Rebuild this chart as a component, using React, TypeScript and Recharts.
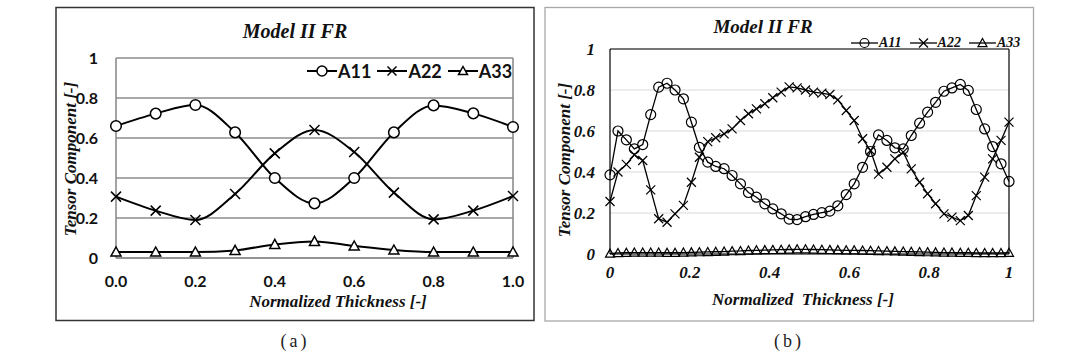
import React from 'react';
import { LineChart, Line, XAxis, YAxis, CartesianGrid, ReferenceLine, Legend } from 'recharts';

// ---------- Panel (a) data ----------
const thicknessA = [0, 0.1, 0.2, 0.3, 0.4, 0.5, 0.6, 0.7, 0.8, 0.9, 1.0];
const a11A = [0.66, 0.722, 0.765, 0.628, 0.4, 0.273, 0.4, 0.628, 0.763, 0.723, 0.655];
const a22A = [0.307, 0.237, 0.19, 0.32, 0.523, 0.64, 0.53, 0.327, 0.193, 0.237, 0.31];
const a33A = [0.03, 0.03, 0.03, 0.038, 0.068, 0.083, 0.06, 0.04, 0.03, 0.03, 0.03];

// ---------- Panel (b) data ----------
const thicknessB = [
  0, 0.02, 0.041, 0.061, 0.082, 0.102, 0.122, 0.143, 0.163, 0.184,
  0.204, 0.224, 0.245, 0.265, 0.286, 0.306, 0.327, 0.347, 0.367, 0.388,
  0.408, 0.429, 0.449, 0.469, 0.49, 0.51, 0.531, 0.551, 0.571, 0.592,
  0.612, 0.633, 0.653, 0.673, 0.694, 0.714, 0.735, 0.755, 0.776, 0.796,
  0.816, 0.837, 0.857, 0.878, 0.898, 0.918, 0.939, 0.959, 0.98, 1.0,
];
const a11B = [
  0.386, 0.6, 0.557, 0.513, 0.534, 0.68, 0.814, 0.833, 0.8, 0.757,
  0.643, 0.52, 0.448, 0.427, 0.416, 0.383, 0.342, 0.3, 0.277, 0.245,
  0.22, 0.196, 0.17, 0.168, 0.182, 0.193, 0.202, 0.209, 0.235, 0.29,
  0.342, 0.423, 0.5, 0.581, 0.554, 0.518, 0.513, 0.578, 0.638, 0.692,
  0.74, 0.794, 0.81, 0.827, 0.798, 0.705, 0.61, 0.524, 0.44, 0.354,
];
const a22B = [
  0.256, 0.4, 0.437, 0.484, 0.456, 0.313, 0.172, 0.155, 0.196, 0.237,
  0.35, 0.472, 0.548, 0.567, 0.586, 0.61, 0.651, 0.684, 0.708, 0.733,
  0.762, 0.79, 0.815, 0.81, 0.8, 0.79, 0.785, 0.778, 0.752, 0.7,
  0.651, 0.562, 0.505, 0.39, 0.423, 0.464, 0.497, 0.415, 0.35, 0.294,
  0.245, 0.196, 0.18, 0.163, 0.188, 0.285, 0.375, 0.464, 0.554, 0.643,
];
const a33B = [
  0.002, 0.005, 0.006, 0.007, 0.007, 0.007, 0.007, 0.006, 0.006, 0.007,
  0.008, 0.009, 0.01, 0.011, 0.012, 0.014, 0.015, 0.017, 0.018, 0.019,
  0.02, 0.021, 0.022, 0.023, 0.023, 0.022, 0.021, 0.02, 0.019, 0.018,
  0.018, 0.017, 0.016, 0.015, 0.014, 0.013, 0.012, 0.011, 0.01, 0.009,
  0.008, 0.007, 0.007, 0.006, 0.006, 0.005, 0.005, 0.005, 0.005, 0.006,
];

const tickValues = [0, 0.2, 0.4, 0.6, 0.8, 1.0];
const seriesNames = ['A11', 'A22', 'A33'];

const dataA = thicknessA.map((x, i) => ({ x, A11: a11A[i], A22: a22A[i], A33: a33A[i] }));
const dataB = thicknessB.map((x, i) => ({ x, A11: a11B[i], A22: a22B[i], A33: a33B[i] }));

type Shape = 'circle' | 'cross' | 'triangle';
const shapes: Shape[] = ['circle', 'cross', 'triangle'];

function marker(shape: Shape, cx: number, cy: number, s: number, sw: number, fill: string, key?: string) {
  if (shape === 'circle') {
    return <circle key={key} cx={cx} cy={cy} r={s} fill={fill} stroke="#000" strokeWidth={sw} />;
  }
  if (shape === 'cross') {
    return (
      <g key={key}>
        <line x1={cx - s} y1={cy - s} x2={cx + s} y2={cy + s} stroke="#000" strokeWidth={sw} />
        <line x1={cx - s} y1={cy + s} x2={cx + s} y2={cy - s} stroke="#000" strokeWidth={sw} />
      </g>
    );
  }
  return (
    <polygon
      key={key}
      points={`${cx},${cy - s} ${cx + s},${cy + s * 0.8} ${cx - s},${cy + s * 0.8}`}
      fill={fill}
      stroke="#000"
      strokeWidth={sw}
    />
  );
}

const makeDot = (shape: Shape, s: number, sw: number, fill: string) => (p: any) => {
  if (p.cx == null || p.cy == null) return <g key={`e${p.index}`} />;
  return marker(shape, p.cx, p.cy, s, sw, fill, `${shape}${p.index}`);
};

const fmtEnds = (v: number) => (v === 0 ? '0' : v === 1 ? '1' : v.toFixed(1));
const fmtFixed = (v: number) => v.toFixed(1);

const serifBI = 'Liberation Serif';

const LegendA = () => (
  <div style={{ display: 'flex', alignItems: 'center', height: 20, fontFamily: 'Lato', fontWeight: 700, fontSize: 18, color: '#111' }}>
    {seriesNames.map((n, i) => (
      <div key={n} style={{ display: 'flex', alignItems: 'center', marginRight: 6 }}>
        <svg width={30} height={20}>
          <line x1={0} y1={10} x2={30} y2={10} stroke="#000" strokeWidth={2} />
          {marker(shapes[i], 15, 10, i === 0 ? 5 : 4.5, 1.5, '#fff')}
        </svg>
        <span style={{ marginLeft: 1, lineHeight: '20px' }}>{n}</span>
      </div>
    ))}
  </div>
);

const LegendB = () => (
  <div style={{ display: 'flex', alignItems: 'center', height: 16, fontFamily: serifBI, fontStyle: 'italic', fontWeight: 700, fontSize: 14, color: '#111' }}>
    {seriesNames.map((n, i) => (
      <div key={n} style={{ display: 'flex', alignItems: 'center', marginRight: 8 }}>
        <svg width={27} height={16}>
          <line x1={0} y1={8} x2={27} y2={8} stroke="#000" strokeWidth={1.3} />
          {marker(shapes[i], 13.5, 8, 4.5, 1.2, 'none')}
        </svg>
        <span style={{ marginLeft: 1, lineHeight: '16px' }}>{n}</span>
      </div>
    ))}
  </div>
);

const gridA = '#8c8c8c';

function ChartA() {
  const tick = { fill: '#111', fontFamily: 'Lato', fontWeight: 700, fontSize: 16 };
  return (
    <LineChart width={478} height={313} data={dataA} margin={{ top: 51, right: 21, bottom: 32, left: 0 }}>
      <CartesianGrid vertical={false} stroke={gridA} strokeWidth={1.6} />
      <XAxis
        dataKey="x"
        type="number"
        domain={[0, 1]}
        ticks={tickValues}
        tickFormatter={fmtFixed}
        height={30}
        tickSize={0}
        tickMargin={18}
        axisLine={{ stroke: gridA, strokeWidth: 1.6 }}
        tickLine={false}
        tick={tick}
        interval={0}
      />
      <YAxis
        type="number"
        domain={[0, 1]}
        ticks={tickValues}
        tickFormatter={fmtEnds}
        width={60}
        tickSize={0}
        tickMargin={18}
        axisLine={{ stroke: gridA, strokeWidth: 1.6 }}
        tickLine={false}
        tick={tick}
        interval={0}
      />
      <ReferenceLine x={1} stroke={gridA} strokeWidth={1.6} />
      <Legend
        layout="vertical"
        verticalAlign="middle"
        align="center"
        content={() => <LegendA />}
        wrapperStyle={{ left: 251, top: 54, width: 'auto', height: 20 }}
      />
      <Line type="monotone" dataKey="A11" stroke="#000" strokeWidth={2} dot={makeDot('circle', 5.3, 1.5, '#fff')} activeDot={false} isAnimationActive={false} />
      <Line type="monotone" dataKey="A22" stroke="#000" strokeWidth={2} dot={makeDot('cross', 5, 1.5, '#fff')} activeDot={false} isAnimationActive={false} />
      <Line type="monotone" dataKey="A33" stroke="#000" strokeWidth={2} dot={makeDot('triangle', 5, 1.5, '#fff')} activeDot={false} isAnimationActive={false} />
    </LineChart>
  );
}

function ChartB() {
  const tick = { fill: '#111', fontFamily: serifBI, fontStyle: 'italic', fontWeight: 700, fontSize: 17 };
  return (
    <LineChart width={489} height={314} data={dataB} margin={{ top: 42, right: 25, bottom: 37, left: 0 }}>
      <CartesianGrid vertical={false} stroke="#d9d9d9" strokeWidth={1} />
      <XAxis
        dataKey="x"
        type="number"
        domain={[0, 1]}
        ticks={tickValues}
        tickFormatter={fmtEnds}
        height={30}
        tickSize={0}
        tickMargin={12}
        axisLine={{ stroke: '#000', strokeWidth: 1.2 }}
        tickLine={false}
        tick={tick}
        interval={0}
      />
      <YAxis
        type="number"
        domain={[0, 1]}
        ticks={tickValues}
        tickFormatter={fmtEnds}
        width={65}
        tickSize={0}
        tickMargin={15}
        axisLine={{ stroke: '#000', strokeWidth: 1.2 }}
        tickLine={false}
        tick={tick}
        interval={0}
      />
      <ReferenceLine x={1} stroke="#000" strokeWidth={1.2} />
      <ReferenceLine y={1} stroke="#000" strokeWidth={1.2} />
      <Legend
        layout="vertical"
        verticalAlign="middle"
        align="center"
        content={() => <LegendB />}
        wrapperStyle={{ left: 306, top: 28, width: 'auto', height: 16 }}
      />
      <Line type="linear" dataKey="A11" stroke="#000" strokeWidth={1.3} dot={makeDot('circle', 5, 1.2, 'none')} activeDot={false} isAnimationActive={false} />
      <Line type="linear" dataKey="A22" stroke="#000" strokeWidth={1.3} dot={makeDot('cross', 4.5, 1.2, 'none')} activeDot={false} isAnimationActive={false} />
      <Line type="linear" dataKey="A33" stroke="#000" strokeWidth={1.3} dot={makeDot('triangle', 4.5, 1.2, 'none')} activeDot={false} isAnimationActive={false} />
    </LineChart>
  );
}

export default function App() {
  const titleStyle: React.CSSProperties = { fontFamily: serifBI, fontStyle: 'italic', fontWeight: 700 };
  return (
    <div style={{ position: 'absolute', left: 0, top: 0, width: 1080, height: 362, background: '#fff', overflow: 'hidden' }}>
      <svg width={1080} height={362} style={{ position: 'absolute', left: 0, top: 0 }}>
        <rect x={56} y={7.5} width={478} height={313} fill="none" stroke="#333" strokeWidth={1.5} />
        <rect x={545} y={7.5} width={488.5} height={313.5} fill="none" stroke="#a8a8a8" strokeWidth={1.3} />
        <text x={295} y={38} textAnchor="middle" fontSize={20} style={titleStyle} fill="#111">Model II FR</text>
        <text x={338} y={307} textAnchor="middle" fontSize={17} style={titleStyle} fill="#111">Normalized Thickness [-]</text>
        <text transform="translate(76,159) rotate(-90)" textAnchor="middle" fontSize={17} style={titleStyle} fill="#111">Tensor Component [-]</text>
        <text x={763} y={33} textAnchor="middle" fontSize={19} style={titleStyle} fill="#111">Model II FR</text>
        <text x={803} y={305} textAnchor="middle" fontSize={17} style={{ ...titleStyle, whiteSpace: 'pre' }} fill="#111">{'Normalized  Thickness [-]'}</text>
        <text transform="translate(570,160) rotate(-90)" textAnchor="middle" fontSize={17} style={titleStyle} fill="#111">Tensor Component [-]</text>
        <text x={295} y={347} textAnchor="middle" fontSize={18} fontFamily={serifBI} fill="#222" letterSpacing={3}>(a)</text>
        <text x={789} y={347} textAnchor="middle" fontSize={18} fontFamily={serifBI} fill="#222" letterSpacing={3}>(b)</text>
      </svg>
      <div style={{ position: 'absolute', left: 56, top: 7 }}>
        <ChartA />
      </div>
      <div style={{ position: 'absolute', left: 545, top: 7 }}>
        <ChartB />
      </div>
    </div>
  );
}
